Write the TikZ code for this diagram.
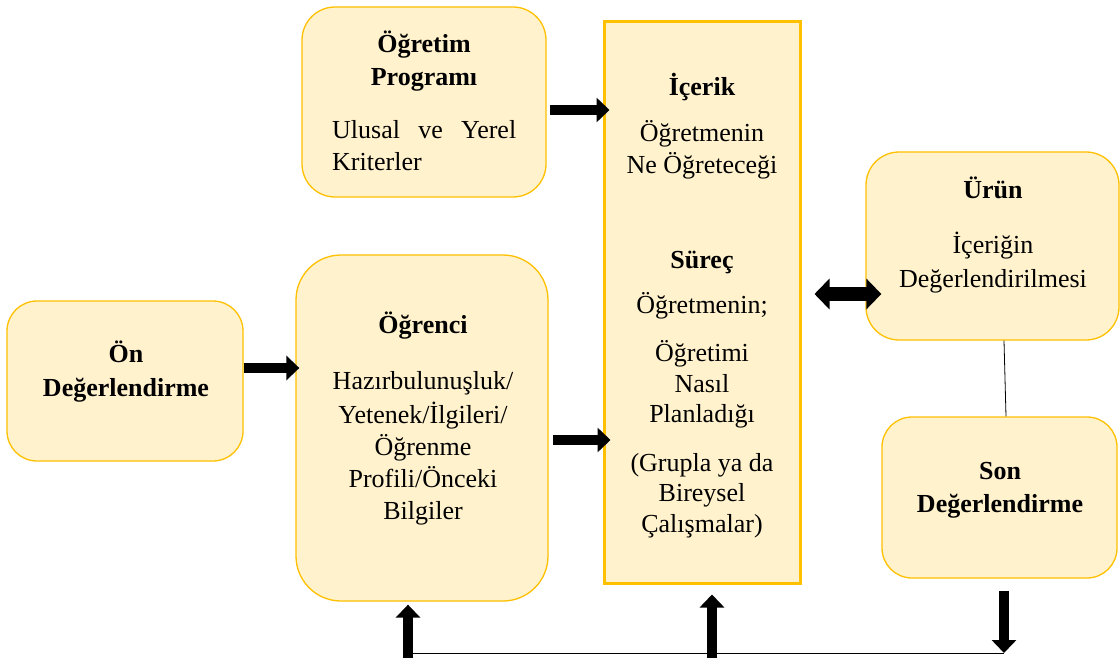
\documentclass[tikz,border=0pt]{standalone}
\usepackage{fontspec}
\setmainfont{Liberation Serif}
\usetikzlibrary{arrows.meta}
\definecolor{boxfill}{HTML}{FFF2CC}
\definecolor{boxline}{HTML}{FFC000}
\begin{document}
\begin{tikzpicture}[x=1pt,y=-1pt,
 rbox/.style={draw=boxline, fill=boxfill, line width=1.3pt, rounded corners=33pt, inner sep=0pt},
 sbox/.style={draw=boxline, fill=boxfill, line width=3pt, inner sep=0pt},
 t/.style={anchor=base, inner sep=0pt, font=\fontsize{26}{32}\selectfont},
 tb/.style={anchor=base, inner sep=0pt, font=\fontsize{26}{32}\selectfont\bfseries},
 blk/.style={line width=10pt, -{Triangle[length=13pt,width=24pt]}},
 dblk/.style={line width=14pt, {Triangle[length=15pt,width=30pt]}-{Triangle[length=15pt,width=30pt]}},
 thinline/.style={line width=0.8pt}]
\useasboundingbox (0,0) rectangle (1120,658);

% boxes
\node[rbox, minimum width=244pt, minimum height=190pt] (prog) at (424,102) {};
\node[sbox, minimum width=196pt, minimum height=561pt] (content) at (702,302.5) {};
\node[rbox, minimum width=253pt, minimum height=188pt] (prod) at (992.5,246) {};
\node[rbox, minimum width=236pt, minimum height=160pt, rounded corners=30pt] (pre) at (125,381) {};
\node[rbox, minimum width=252pt, minimum height=346pt, rounded corners=45pt] (stud) at (422,428) {};
\node[rbox, minimum width=235pt, minimum height=161pt, rounded corners=30pt] (post) at (999.5,497.5) {};

% texts: Ogretim Programi
\node[tb] (p1) at (424,53) {Öğretim};
\node[tb] (p2) at (424,86) {Programı};
\node[t, anchor=base west] (p3) at (332,139) {\makebox[184pt][s]{Ulusal\hfill ve\hfill Yerel}};
\node[t, anchor=base west] (p4) at (332,171) {Kriterler};

% Icerik / Surec
\node[tb] (c1) at (702,96) {İçerik};
\node[t] (c2) at (702,142) {Öğretmenin};
\node[t] (c3) at (702,174) {Ne Öğreteceği};
\node[tb] (c4) at (702,268) {Süreç};
\node[t] (c5) at (702,313) {Öğretmenin;};
\node[t] (c6) at (702,361) {Öğretimi};
\node[t] (c7) at (702,392) {Nasıl};
\node[t] (c8) at (702,422) {Planladığı};
\node[t] (c9) at (702,471) {(Grupla ya da};
\node[t] (c10) at (702,501) {Bireysel};
\node[t] (c11) at (702,532) {Çalışmalar)};

% Urun
\node[tb] (u1) at (993,199) {Ürün};
\node[t] (u2) at (993,254) {İçeriğin};
\node[t] (u3) at (993,287) {Değerlendirilmesi};

% On Degerlendirme
\node[tb] (o1) at (126,362) {Ön};
\node[tb] (o2) at (126,396) {Değerlendirme};

% Ogrenci
\node[tb] (s1) at (423,333) {Öğrenci};
\node[t] (s2) at (423,389) {Hazırbulunuşluk/};
\node[t] (s3) at (423,423) {Yetenek/İlgileri/};
\node[t] (s4) at (423,455) {Öğrenme};
\node[t] (s5) at (423,487) {Profili/Önceki};
\node[t] (s6) at (423,519) {Bilgiler};

% Son Degerlendirme
\node[tb] (e1) at (1000,479) {Son};
\node[tb] (e2) at (1000,512) {Değerlendirme};

% bottom coordinates
\coordinate (b1) at (413,653);
\coordinate (b1s) at (408,658);
\coordinate (b2) at (712,658);
\coordinate (b3) at (1004,653);

% arrows
\draw[blk] ([xshift=3pt]prog.east |- 0,110) -- ([xshift=7pt]content.west |- 0,110);
\draw[blk] (pre.east |- 0,368) -- ([xshift=4pt]stud.west |- 0,368);
\draw[blk] ([xshift=4pt]stud.east |- 0,440) -- ([xshift=8pt]content.west |- 0,440);
\draw[dblk] ([xshift=13pt]content.east |- 0,294) -- ([xshift=16pt]prod.west |- 0,294);
\draw[thinline] (prod.south -| 1004,0) -- (post.north -| 1006,0);
\draw[blk] ([yshift=-12pt]post.south -| b3) -- (b3);
\draw[blk] (b2) -- ([yshift=-10pt]content.south -| b2);
\draw[blk] (b1s) -- ([yshift=-3pt]stud.south -| b1s);
\draw[thinline] (b1) -- (b3);
\end{tikzpicture}
\end{document}
